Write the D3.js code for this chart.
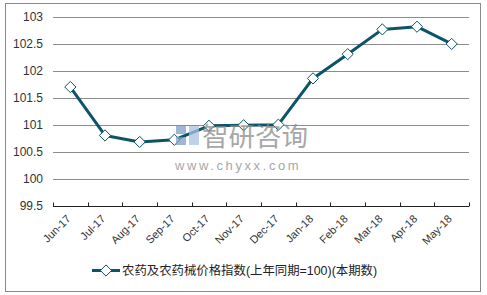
<!DOCTYPE html>
<html>
<head>
<meta charset="utf-8">
<script src="https://cdn.jsdelivr.net/npm/d3@7"></script>
<style>
  body { margin: 0; background: #fff; }
  svg text { font-family: "Liberation Sans", Arial, "Noto Sans CJK SC", sans-serif; }
</style>
</head>
<body>
<div id="chart"></div>
<script>
// data
const months = ["Jun-17","Jul-17","Aug-17","Sep-17","Oct-17","Nov-17","Dec-17","Jan-18","Feb-18","Mar-18","Apr-18","May-18"];
const values = [101.7, 100.8, 100.68, 100.72, 100.98, 100.99, 101.0, 101.86, 102.31, 102.77, 102.82, 102.5];
const yTicks = [99.5, 100, 100.5, 101, 101.5, 102, 102.5, 103];
const seriesName = "农药及农药械价格指数(上年同期=100)(本期数)";

let drawChart = function(){
    const width = 487;
    const height = 295;
    const margin = {top: 17, right: 18, bottom: 90, left: 53};
    const lineColor = "#0c5468";

    var svg = d3.select("#chart").append("svg").attr("width", width).attr("height", height);

    // outer frame
    svg.append("rect").attr("x", 5.5).attr("y", 3.5).attr("width", 475).attr("height", 288)
        .attr("fill", "#fff").attr("stroke", "#8a8a8a").attr("stroke-width", 1);

    var xScale = d3.scaleBand().domain(months).range([margin.left, width - margin.right]);
    var yScale = d3.scaleLinear().domain([99.5, 103]).range([height - margin.bottom + 0.5, margin.top]);

    // gridlines
    svg.append("g").selectAll("line").data(yTicks.slice(1)).enter().append("line")
        .attr("x1", margin.left).attr("x2", width - margin.right)
        .attr("y1", d => Math.round(yScale(d)) + 0.5).attr("y2", d => Math.round(yScale(d)) + 0.5)
        .attr("stroke", "#8c8c8c").attr("stroke-width", 1);

    // y labels
    svg.append("g").selectAll("text").data(yTicks).enter().append("text")
        .attr("x", 43).attr("y", d => yScale(d) + 4)
        .attr("text-anchor", "end").attr("font-size", 12).attr("fill", "#333")
        .text(d => d);

    // x axis
    var y0 = Math.round(yScale(99.5)) + 0.5;
    var xAxis = svg.append("g");
    xAxis.append("line").attr("x1", margin.left).attr("x2", width - margin.right)
        .attr("y1", y0).attr("y2", y0).attr("stroke", "#222").attr("stroke-width", 1);
    var tickPos = months.map(m => xScale(m)).concat([xScale.range()[1]]);
    xAxis.selectAll("line.tick").data(tickPos).enter().append("line").attr("class", "tick")
        .attr("x1", d => Math.round(d) + 0.5).attr("x2", d => Math.round(d) + 0.5)
        .attr("y1", y0 - 4).attr("y2", y0).attr("stroke", "#222");
    xAxis.selectAll("text").data(months).enter().append("text")
        .attr("transform", d => "translate(" + (xScale(d) + xScale.bandwidth() / 2 + 1) + "," + (y0 + 13) + ") rotate(-45)")
        .attr("text-anchor", "end").attr("font-size", 11).attr("fill", "#333")
        .text(d => d);

    // line
    var cx = (d, i) => xScale(months[i]) + xScale.bandwidth() / 2;
    var line = d3.line().x((d, i) => cx(d, i)).y(d => yScale(d));
    svg.append("path").datum(values).attr("d", line)
        .attr("fill", "none").attr("stroke", lineColor).attr("stroke-width", 3).attr("stroke-linejoin", "round");

    var diamond = d3.symbol().type(d3.symbolDiamond2).size(80);
    svg.append("g").selectAll("path").data(values).enter().append("path")
        .attr("d", diamond)
        .attr("transform", (d, i) => "translate(" + cx(d, i) + "," + yScale(d) + ")")
        .attr("fill", "#fff").attr("stroke", lineColor).attr("stroke-width", 1);

    // watermark
    var wm = svg.append("g").attr("opacity", 0.75);
    wm.append("rect").attr("x", 176).attr("y", 126).attr("width", 10).attr("height", 8).attr("fill", "#7f9fc8");
    wm.append("rect").attr("x", 176).attr("y", 137).attr("width", 10).attr("height", 8).attr("fill", "#7f9fc8");
    wm.append("rect").attr("x", 189).attr("y", 126).attr("width", 10).attr("height", 19).attr("fill", "#a9c3e0");
    wm.append("text").attr("x", 202).attr("y", 146).attr("font-size", 26.5).attr("fill", "#8a8a8a")
        .attr("font-family", "Noto Sans CJK SC").text("智研咨询");
    wm.append("text").attr("x", 175).attr("y", 170).attr("font-size", 13).attr("fill", "#8a8a8a")
        .attr("letter-spacing", 2.6).text("www.chyxx.com");

    // legend
    var ly = 270.5;
    svg.append("line").attr("x1", 92).attr("x2", 120).attr("y1", ly).attr("y2", ly)
        .attr("stroke", lineColor).attr("stroke-width", 3);
    svg.append("path").attr("d", diamond).attr("transform", "translate(106," + ly + ")")
        .attr("fill", "#fff").attr("stroke", lineColor).attr("stroke-width", 1);
    svg.append("text").attr("x", 122).attr("y", ly + 4.5).attr("font-size", 12.4).attr("fill", "#222")
        .attr("font-family", "Noto Sans CJK SC").text(seriesName);
}
drawChart();
</script>
</body>
</html>
